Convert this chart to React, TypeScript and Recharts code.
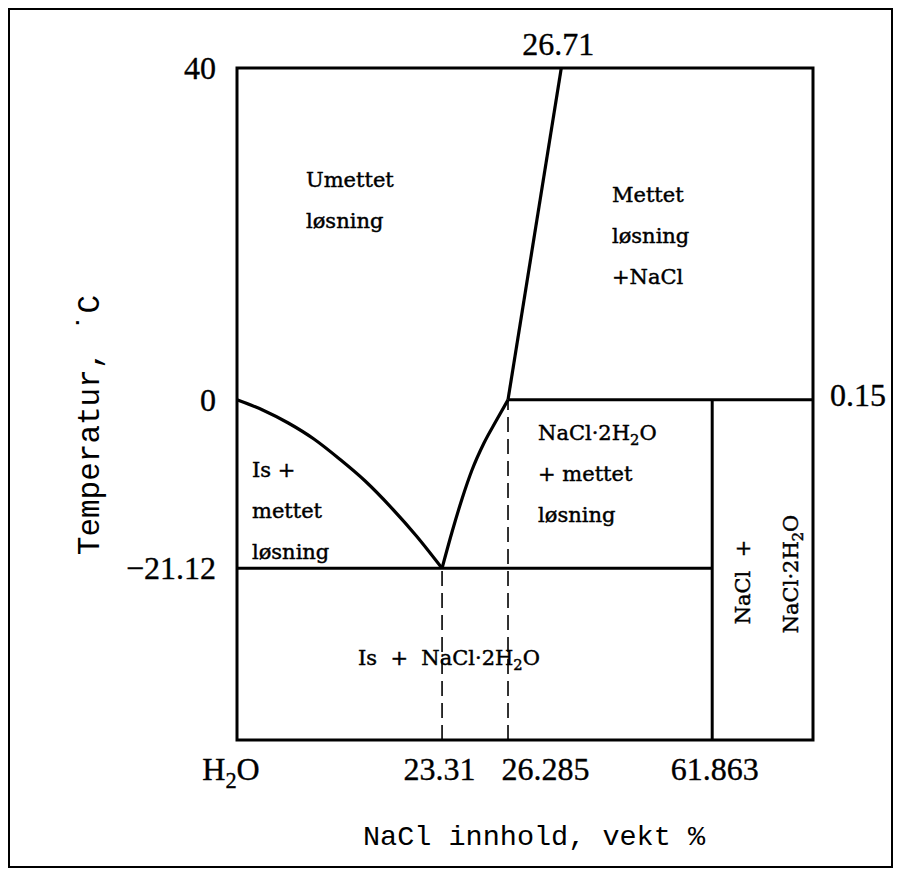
import React from 'react';
import { ComposedChart, Line, XAxis, YAxis, ReferenceArea, Scatter } from 'recharts';

// Schematic diagram coordinates (the original diagram is not drawn to scale)
const xTickPos = [0, 35.6, 47.05, 82.5];
const xTickLabels = ['H_2O', '23.31', '26.285', '61.863'];
const yTickPos = [40, 0, -20.3];
const yTickLabels = ['40', '0', '\u221221.12'];
const topTickPos = [56.3];
const topTickLabels = ['26.71'];
const rightTickPos = [0];
const rightTickLabels = ['0.15'];

const xTitle = 'NaCl innhold, vekt %';
const yTitle = 'Temperatur, \u02D9C';

const iceLiquidus = [
  { x: 0, y: 0 }, { x: 4.45, y: -1.22 }, { x: 8.9, y: -2.79 }, { x: 13.35, y: -4.72 },
  { x: 17.8, y: -7.13 }, { x: 22.25, y: -9.78 }, { x: 26.7, y: -12.92 }, { x: 31.15, y: -16.41 },
  { x: 35.6, y: -20.3 },
];
const hydrateLiquidus = [
  { x: 35.6, y: -20.3 }, { x: 37.33, y: -15.93 }, { x: 39.06, y: -11.95 }, { x: 40.8, y: -8.46 },
  { x: 42.88, y: -5.2 }, { x: 44.97, y: -2.55 }, { x: 47.05, y: 0 },
];
const saltLiquidus = [{ x: 47.05, y: 0 }, { x: 56.3, y: 40 }];
const peritecticLine = [{ x: 47.05, y: 0 }, { x: 100, y: 0 }];
const eutecticLine = [{ x: 0, y: -20.3 }, { x: 82.5, y: -20.3 }];
const hydrateLine = [{ x: 82.5, y: -41 }, { x: 82.5, y: 0 }];
const eutecticDash = [{ x: 35.6, y: -41 }, { x: 35.6, y: -20.3 }];
const hydrateDash = [{ x: 47.05, y: -41 }, { x: 47.05, y: 0 }];

const regionLabels = [
  { x: 11.98, y: 25.66, lines: ['Umettet', 'løsning'], rotate: false },
  { x: 65.1, y: 23.85, lines: ['Mettet', 'løsning', '+NaCl'], rotate: false },
  { x: 2.6, y: -9.3, lines: ['Is +', 'mettet', 'løsning'], rotate: false },
  { x: 52.26, y: -4.84, lines: ['NaCl\u00B72H_2O', '+ mettet', 'løsning'], rotate: false },
  { x: 21.0, y: -31.96, lines: ['Is  +  NaCl\u00B72H_2O'], rotate: false },
  { x: 89.06, y: -21.96, lines: ['NaCl  +'], rotate: true },
  { x: 97.4, y: -20.99, lines: ['NaCl\u00B72H_2O'], rotate: true },
];

const TICK_FONT = "'Liberation Serif', 'DejaVu Serif', serif";
const TITLE_FONT = "'Liberation Mono', 'DejaVu Sans Mono', monospace";
const REGION_FONT = "'DejaVu Serif', serif";

function rich(s: string, fs: number) {
  const parts = s.split(/_(\d)/);
  const out: any[] = [];
  const sh = fs * 0.25;
  for (let i = 0; i < parts.length; i++) {
    if (i % 2 === 0) {
      if (i === 0) {
        if (parts[i]) out.push(<tspan key={i}>{parts[i]}</tspan>);
      } else {
        out.push(<tspan key={i} dy={-sh}>{parts[i]}</tspan>);
      }
    } else {
      out.push(<tspan key={i} dy={sh} fontSize={fs * 0.7}>{parts[i]}</tspan>);
    }
  }
  return out;
}

const tickText = { fontFamily: TICK_FONT, fontSize: 32, fill: '#000', stroke: '#000', strokeWidth: 0.35 };

const BottomTick = (props: any) => {
  const { x, y, payload } = props;
  const i = xTickPos.indexOf(payload.value);
  if (i < 0) return null;
  const shift = [-6, -2.5, 37.6, 2.6][i];
  return (
    <text x={x + shift} y={y + 40} textAnchor="middle" {...tickText}>
      {rich(xTickLabels[i], 32)}
    </text>
  );
};

const TopTick = (props: any) => {
  const { x, y, payload } = props;
  const i = topTickPos.indexOf(payload.value);
  if (i < 0) return null;
  return (
    <text x={x - 3} y={y - 13} textAnchor="middle" {...tickText}>
      {topTickLabels[i]}
    </text>
  );
};

const LeftTick = (props: any) => {
  const { x, y, payload } = props;
  const i = yTickPos.indexOf(payload.value);
  if (i < 0) return null;
  return (
    <text x={x - 21} y={y + 11} textAnchor="end" {...tickText}>
      {yTickLabels[i]}
    </text>
  );
};

const RightTick = (props: any) => {
  const { x, y, payload } = props;
  const i = rightTickPos.indexOf(payload.value);
  if (i < 0) return null;
  return (
    <text x={x + 17} y={y + 6} textAnchor="start" {...tickText}>
      {rightTickLabels[i]}
    </text>
  );
};

const XTitle = (props: any) => {
  const vb = props.viewBox || { x: 237, y: 740, width: 576, height: 100 };
  return (
    <text x={vb.x + vb.width / 2 + 9} y={vb.y + 105} textAnchor="middle" fontFamily={TITLE_FONT} fontSize={28.5} fill="#000">
      {xTitle}
    </text>
  );
};

const YTitle = (props: any) => {
  const vb = props.viewBox || { x: 100, y: 68, width: 137, height: 672 };
  const cx = vb.x - 1;
  const cy = 425;
  return (
    <text x={cx} y={cy} transform={`rotate(-90 ${cx} ${cy})`} textAnchor="middle" fontFamily={TITLE_FONT} fontSize={31} fill="#000" style={{ whiteSpace: 'pre' }}>
      {yTitle}
    </text>
  );
};

const RegionLabel = (props: any) => {
  const { cx, cy, payload } = props;
  if (cx == null || cy == null || !payload) return null;
  const fs = 21;
  const common = { fontFamily: REGION_FONT, fontSize: fs, fill: '#000', stroke: '#000', strokeWidth: 0.45 };
  if (payload.rotate) {
    return (
      <text x={cx} y={cy} transform={`rotate(-90 ${cx} ${cy})`} textAnchor="middle" {...common} style={{ whiteSpace: 'pre' }}>
        {rich(payload.lines[0], fs)}
      </text>
    );
  }
  return (
    <text x={cx} y={cy} {...common} style={{ whiteSpace: 'pre' }}>
      {payload.lines.map((l: string, i: number) => (
        <tspan key={i} x={cx} dy={i === 0 ? 0 : 41}>{rich(l, fs)}</tspan>
      ))}
    </text>
  );
};

const lineProps = {
  xAxisId: 'b',
  yAxisId: 'l',
  dataKey: 'y',
  stroke: '#000',
  dot: false,
  activeDot: false,
  isAnimationActive: false,
  legendType: 'none' as const,
};

export default function App() {
  return (
    <div style={{ position: 'absolute', left: 0, top: 0, width: 901, height: 876, background: '#fff' }}>
      <ComposedChart width={901} height={876} margin={{ top: 28, right: 0, bottom: 36, left: 100 }}>
        <XAxis
          xAxisId="b" type="number" dataKey="x" domain={[0, 100]} ticks={xTickPos} interval={0}
          axisLine={false} tickLine={false} tickSize={0} tickMargin={0} height={100}
          tick={<BottomTick />} label={<XTitle />} allowDataOverflow
        />
        <XAxis
          xAxisId="t" orientation="top" type="number" dataKey="x" domain={[0, 100]} ticks={topTickPos} interval={0}
          axisLine={false} tickLine={false} tickSize={0} tickMargin={0} height={40}
          tick={<TopTick />} allowDataOverflow
        />
        <YAxis
          yAxisId="l" type="number" dataKey="y" domain={[-41, 40]} ticks={yTickPos} interval={0}
          axisLine={false} tickLine={false} tickSize={0} tickMargin={0} width={137}
          tick={<LeftTick />} label={<YTitle />} allowDataOverflow
        />
        <YAxis
          yAxisId="r" orientation="right" type="number" dataKey="y" domain={[-41, 40]} ticks={rightTickPos} interval={0}
          axisLine={false} tickLine={false} tickSize={0} tickMargin={0} width={88}
          tick={<RightTick />} allowDataOverflow
        />
        <ReferenceArea xAxisId="b" yAxisId="l" x1={0} x2={100} y1={-41} y2={40} fill="none" fillOpacity={0} stroke="#000" strokeWidth={3} ifOverflow="visible" />
        <Line {...lineProps} data={eutecticDash} type="linear" strokeWidth={1.6} strokeDasharray="15 7" />
        <Line {...lineProps} data={hydrateDash} type="linear" strokeWidth={1.6} strokeDasharray="15 7" />
        <Line {...lineProps} data={iceLiquidus} type="monotone" strokeWidth={3.2} />
        <Line {...lineProps} data={hydrateLiquidus} type="monotone" strokeWidth={3.2} />
        <Line {...lineProps} data={saltLiquidus} type="linear" strokeWidth={3.2} />
        <Line {...lineProps} data={peritecticLine} type="linear" strokeWidth={3} />
        <Line {...lineProps} data={eutecticLine} type="linear" strokeWidth={3} />
        <Line {...lineProps} data={hydrateLine} type="linear" strokeWidth={3} />
        <Scatter xAxisId="b" yAxisId="l" data={regionLabels} dataKey="y" shape={<RegionLabel />} isAnimationActive={false} legendType="none" />
      </ComposedChart>
      <div style={{ position: 'absolute', left: 8, top: 8, width: 885, height: 860, border: '2px solid #000', boxSizing: 'border-box', pointerEvents: 'none' }} />
    </div>
  );
}
